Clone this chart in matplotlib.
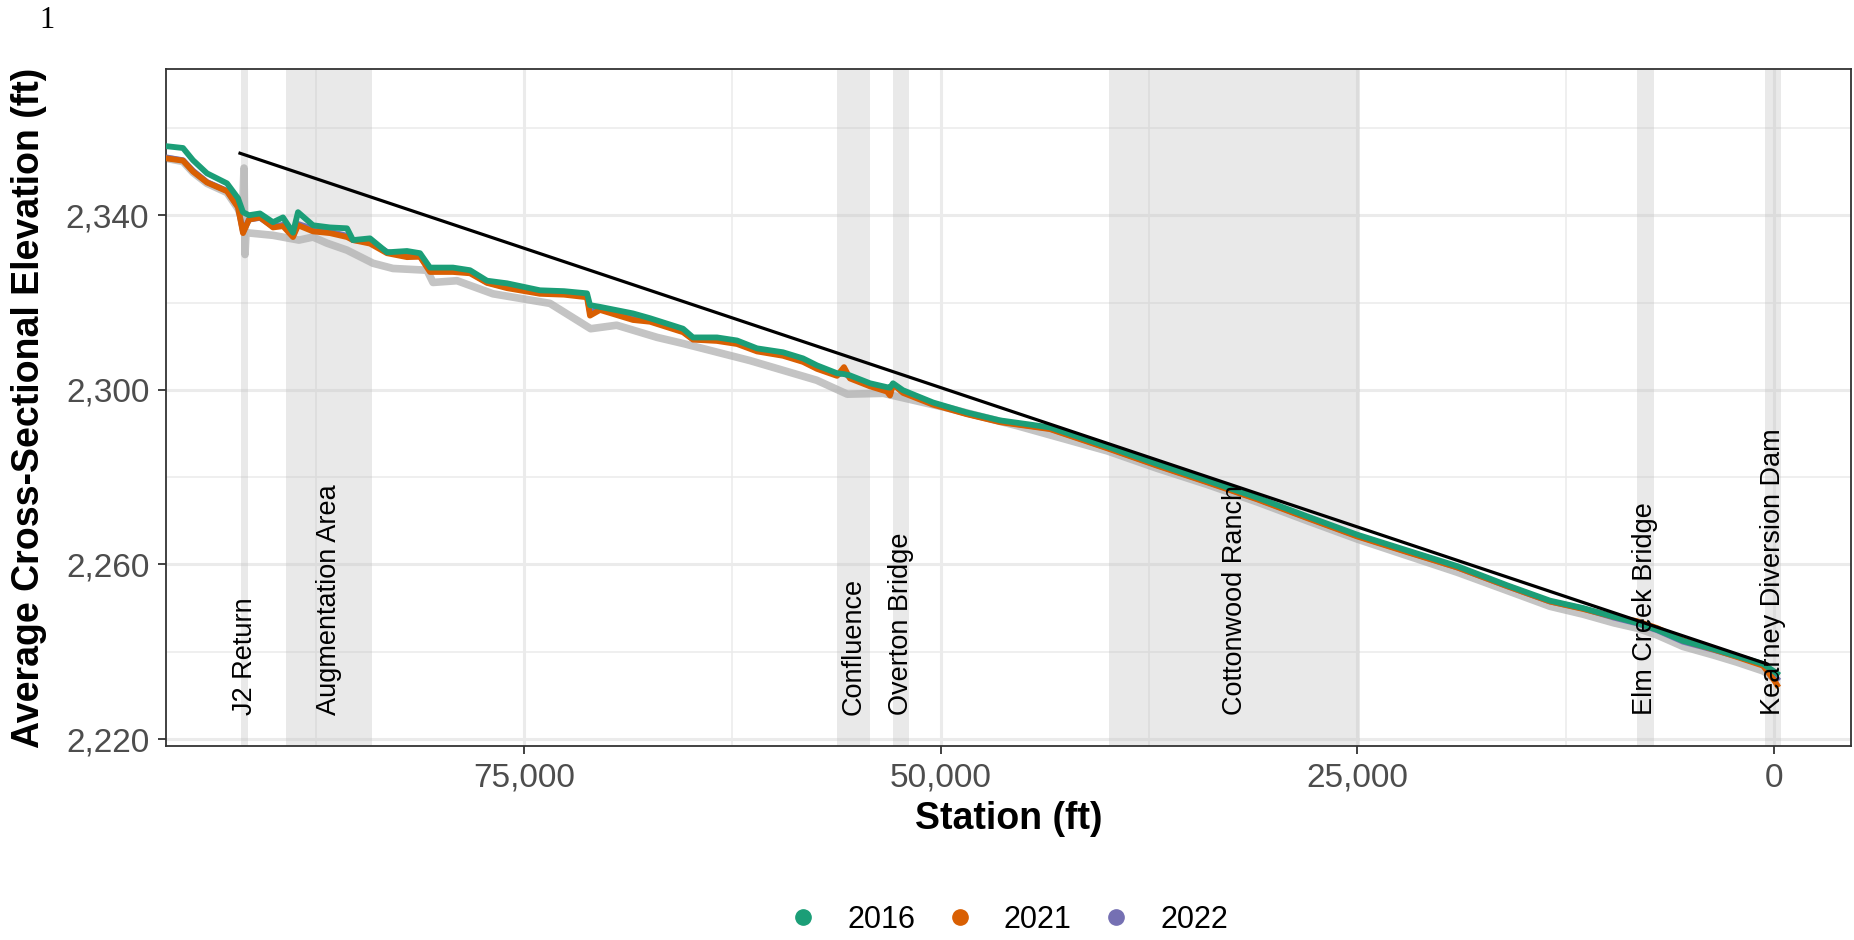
import matplotlib
matplotlib.use("Agg")
import matplotlib.pyplot as plt
from matplotlib.lines import Line2D
from matplotlib.ticker import FuncFormatter, FixedLocator

plt.rcParams['font.family'] = ['Liberation Sans', 'DejaVu Sans']

# station (ft) shared by the three survey years
station = [96420, 95460, 94860, 94020, 92820, 92160, 91860, 91500, 90840, 90060,
           89460, 88860, 88560, 87660, 86640, 85620, 85260, 84240, 83220, 82020,
           81240, 80640, 79260, 78240, 77220, 76020, 74040, 72600, 71220, 71040,
           70440, 68460, 67440, 65460, 64860, 63420, 62220, 61020, 59460, 58260,
           57420, 56220, 55800, 55440, 54240, 53220, 53040, 52860, 52260, 50460,
           48420, 46440, 43440, 40000, 37000, 34000, 31000, 28000, 25000, 22000,
           19000, 16000, 13440, 11460, 9600, 8220, 7000, 5460, 3600, 2220,
           660, 0, -180]

elev_2016 = [2355.8, 2355.4, 2352.6, 2349.6, 2347.3, 2343.9, 2340.7, 2340.0, 2340.4, 2338.4,
             2339.5, 2336.0, 2340.7, 2337.7, 2337.2, 2337.0, 2334.3, 2334.7, 2331.5, 2331.8,
             2331.3, 2328.0, 2328.0, 2327.4, 2325.0, 2324.4, 2322.8, 2322.6, 2322.1, 2319.4,
             2319.0, 2317.5, 2316.4, 2314.0, 2312.0, 2312.0, 2311.3, 2309.5, 2308.6, 2307.2,
             2305.6, 2303.8, 2303.6, 2303.3, 2301.5, 2300.6, 2300.5, 2301.5, 2299.9, 2297.1,
             2294.8, 2293.0, 2291.4, 2287.0, 2283.0, 2279.2, 2275.3, 2271.0, 2266.8, 2263.2,
             2259.6, 2255.2, 2251.7, 2250.0, 2248.0, 2246.6, 2245.0, 2242.5, 2240.6, 2239.0,
             2237.2, 2235.5, 2235.0]

elev_2021 = [2353.0, 2352.5, 2350.0, 2347.5, 2345.5, 2341.8, 2335.9, 2339.0, 2339.5, 2337.2,
             2337.5, 2335.0, 2337.7, 2336.3, 2335.9, 2335.0, 2334.3, 2333.5, 2331.3, 2330.4,
             2330.5, 2327.0, 2327.0, 2326.7, 2324.5, 2323.3, 2322.0, 2321.8, 2321.2, 2317.0,
             2318.3, 2316.0, 2315.6, 2313.2, 2311.5, 2311.2, 2310.5, 2308.8, 2307.8, 2306.4,
             2304.8, 2303.2, 2305.2, 2302.6, 2300.8, 2299.6, 2298.7, 2301.3, 2299.3, 2296.6,
             2294.4, 2292.6, 2291.0, 2286.6, 2282.6, 2278.8, 2274.9, 2270.6, 2266.4, 2262.8,
             2259.3, 2255.0, 2251.5, 2249.8, 2248.0, 2247.0, 2245.4, 2242.6, 2240.5, 2238.8,
             2236.8, 2233.5, 2232.4]

elev_2022 = [2353.2, 2352.6, 2350.2, 2347.6, 2345.6, 2342.0, 2336.2, 2339.0, 2339.4, 2337.4,
             2337.8, 2335.3, 2338.0, 2336.9, 2336.2, 2335.3, 2334.3, 2334.0, 2331.6, 2330.6,
             2330.6, 2327.4, 2327.2, 2326.9, 2324.6, 2323.5, 2322.2, 2322.0, 2321.4, 2317.8,
             2318.5, 2316.3, 2315.8, 2313.4, 2311.6, 2311.4, 2310.7, 2309.0, 2308.0, 2306.6,
             2305.0, 2303.4, 2304.0, 2302.8, 2301.0, 2299.8, 2299.0, 2301.3, 2299.5, 2296.8,
             2294.5, 2292.7, 2291.1, 2286.7, 2282.7, 2278.9, 2275.0, 2270.7, 2266.5, 2262.9,
             2259.3, 2255.0, 2251.5, 2249.9, 2247.8, 2246.5, 2244.9, 2242.3, 2240.4, 2238.9,
             2237.0, 2234.5, 2233.8]

# older profile drawn in grey
grey_station = [96420, 95460, 94860, 94020, 92820, 92160, 91900, 91800, 91740, 91680,
                90060, 88500, 87660, 86820, 85620, 84060, 82860, 80820, 80460, 79020,
                76860, 73440, 71000, 69440, 67000, 65440, 61440, 57440, 55600, 53440,
                49440, 45440, 40000, 37000, 34000, 31000, 28000, 25000, 22000, 19000,
                16000, 13440, 11460, 9600, 8220, 7000, 5460, 3600, 2220, 660, 0]
grey_elev = [2353.0, 2352.3, 2349.8, 2347.3, 2345.2, 2341.5, 2339.0, 2350.8, 2331.0, 2336.0,
             2335.4, 2334.3, 2335.0, 2333.6, 2332.0, 2329.0, 2327.8, 2327.4, 2324.6, 2325.0,
             2322.0, 2319.8, 2314.0, 2314.8, 2312.0, 2310.6, 2306.7, 2302.2, 2299.0, 2299.2,
             2295.7, 2291.8, 2286.0, 2282.0, 2278.3, 2274.3, 2270.0, 2265.8, 2262.0, 2258.2,
             2254.0, 2250.4, 2248.6, 2246.6, 2245.4, 2243.8, 2241.2, 2239.2, 2237.6, 2235.6, 2234.0]

# reference slope line
ref_station = [92040, 420]
ref_elev = [2354.2, 2237.2]

# shaded reaches
reach_names = ["J2 Return", "Augmentation Area", "Confluence", "Overton Bridge",
               "Cottonwood Ranch", "Elm Creek Bridge", "Kearney Diversion Dam"]
reach_start = [92000, 89280, 56220, 52860, 39900, 8220, 540]
reach_end = [91540, 84120, 54240, 51900, 24820, 7200, -420]

years = ["2016", "2021", "2022"]
colors = ["#1B9E77", "#D95F02", "#7570B3"]

x_major = [75000, 50000, 25000, 0]
x_minor = [87500, 62500, 37500, 12500]
y_major = [2220, 2260, 2300, 2340]
y_minor = [2240, 2280, 2320, 2360]

fig = plt.figure(figsize=(18.54, 9.40), dpi=100)
ax = fig.add_axes([166 / 1854, 1 - 746 / 940, (1851 - 166) / 1854, (746 - 69) / 940])

ax.set_xlim(96480, -4620)
ax.set_ylim(2218.4, 2373.5)

ax.xaxis.set_major_locator(FixedLocator(x_major))
ax.xaxis.set_minor_locator(FixedLocator(x_minor))
ax.yaxis.set_major_locator(FixedLocator(y_major))
ax.yaxis.set_minor_locator(FixedLocator(y_minor))
ax.xaxis.set_major_formatter(FuncFormatter(lambda v, p: f"{v:,.0f}"))
ax.yaxis.set_major_formatter(FuncFormatter(lambda v, p: f"{v:,.0f}"))

ax.grid(which='major', color='#EBEBEB', linewidth=2.2, zorder=0)
ax.grid(which='minor', color='#EBEBEB', linewidth=1.1, zorder=0)
ax.set_axisbelow(True)

ax.tick_params(which='major', length=6, width=1.3, color='#333333',
               labelsize=24, labelcolor='#4D4D4D', pad=6)
ax.tick_params(which='minor', length=0)
for s in ax.spines.values():
    s.set_color('#333333')
    s.set_linewidth(1.3)

for a, b in zip(reach_start, reach_end):
    ax.axvspan(b, a, facecolor='#BEBEBE', alpha=0.33, linewidth=0, zorder=1)

ax.plot(grey_station, grey_elev, color='#B0B0B0', alpha=0.75, linewidth=5.5,
        solid_joinstyle='round', solid_capstyle='round', zorder=2)
ax.plot(station, elev_2022, color=colors[2], linewidth=4.2, solid_joinstyle='round', zorder=3)
ax.plot(station, elev_2021, color=colors[1], linewidth=4.2, solid_joinstyle='round', zorder=4)
ax.plot(station, elev_2016, color=colors[0], linewidth=4.2, solid_joinstyle='round', zorder=5)

ax.plot(ref_station, ref_elev, color='black', linewidth=2.3, zorder=7)

for name, a, b in zip(reach_names, reach_start, reach_end):
    ax.text((a + b) / 2, 2225.5, name, rotation=90, ha='center', va='bottom',
            fontsize=19.5, color='black', zorder=6)

fig.text((166 + 1851) / 2 / 1854, 1 - 819 / 940, "Station (ft)", ha='center', va='center',
         fontsize=27, fontweight='bold')
fig.text(29 / 1854, 1 - 407.5 / 940, "Average Cross-Sectional Elevation (ft)", rotation=90,
         ha='center', va='center', fontsize=27, fontweight='bold')

fig.text(47 / 1854, 1 - 21 / 940, "1", family=['Liberation Serif', 'DejaVu Serif'],
         fontsize=22, ha='center', va='center')

handles = [Line2D([], [], marker='o', linestyle='', color=c, markersize=11) for c in colors]
fig.legend(handles, years, loc='center', bbox_to_anchor=(1008 / 1854, 1 - 920 / 940),
           ncol=3, frameon=False, fontsize=22, handlelength=1.0, handletextpad=0.95,
           columnspacing=0.95)

fig.savefig("out.png", dpi=100)
